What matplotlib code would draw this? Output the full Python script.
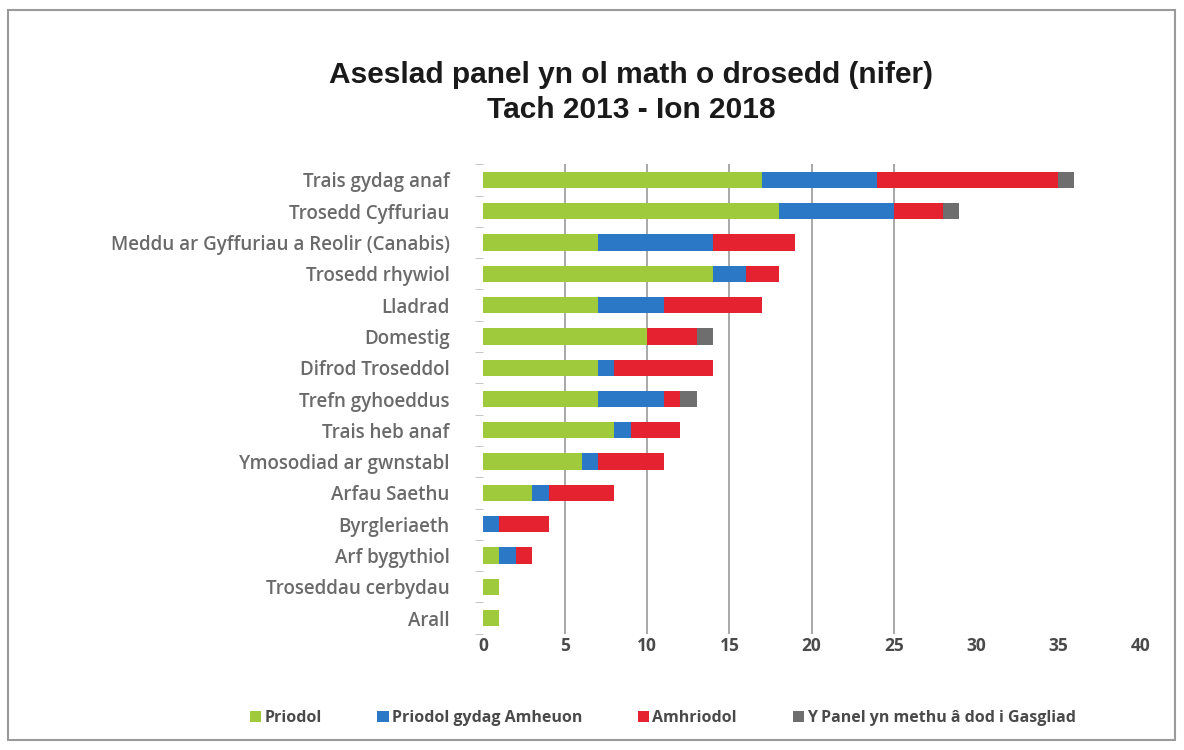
import matplotlib
matplotlib.use("Agg")
import matplotlib.pyplot as plt
import numpy as np
from matplotlib.patches import Rectangle

# categories, top to bottom
categories = ["Trais gydag anaf", "Trosedd Cyffuriau",
              "Meddu ar Gyffuriau a Reolir (Canabis)", "Trosedd rhywiol",
              "Lladrad", "Domestig", "Difrod Troseddol", "Trefn gyhoeddus",
              "Trais heb anaf", "Ymosodiad ar gwnstabl", "Arfau Saethu",
              "Byrgleriaeth", "Arf bygythiol", "Troseddau cerbydau", "Arall"]

priodol = [17, 18, 7, 14, 7, 10, 7, 7, 8, 6, 3, 0, 1, 1, 1]
priodol_amheuon = [7, 7, 7, 2, 4, 0, 1, 4, 1, 1, 1, 1, 1, 0, 0]
amhriodol = [11, 3, 5, 2, 6, 3, 6, 1, 3, 4, 4, 3, 1, 0, 0]
dim_casgliad = [1, 1, 0, 0, 0, 1, 0, 1, 0, 0, 0, 0, 0, 0, 0]

series_names = ["Priodol", "Priodol gydag Amheuon", "Amhriodol",
                "Y Panel yn methu â dod i Gasgliad"]
colors = ["#9fca3c", "#2b78c6", "#e52330", "#6e6e6e"]

xticks = [0, 5, 10, 15, 20, 25, 30, 35, 40]

fig = plt.figure(figsize=(11.84, 7.5), dpi=100)
ax = fig.add_axes([0.408, 0.155, 0.555, 0.626])

y = np.arange(len(categories))
left = np.zeros(len(categories))
series = [priodol, priodol_amheuon, amhriodol, dim_casgliad]
for vals, name, c in zip(series, series_names, colors):
    vals = np.array(vals, dtype=float)
    ax.barh(y, vals, left=left, height=0.52, color=c, label=name, zorder=3)
    left = left + vals

ax.set_ylim(len(categories) - 0.5, -0.5)
ax.set_xlim(0, 40)
ax.set_xticks(xticks)
ax.set_xticklabels([str(t) for t in xticks], fontsize=12.5, color="#4a4a4a",
                   family="Open Sans", fontweight="bold")
ax.set_yticks(y)
ax.set_yticklabels(categories, fontsize=13.5, color="#6a6a6a", family="Open Sans",
                   fontweight="semibold")
ax.set_yticks(np.arange(len(categories) + 1) - 0.5, minor=True)
ax.tick_params(axis="y", which="major", length=0, pad=24)
ax.tick_params(axis="y", which="minor", length=6, color="#bbbbbb")
ax.tick_params(axis="x", length=0, pad=2)

for t in xticks[1:6]:
    ax.axvline(t, color="#9a9a9a", lw=1.2, zorder=1)

for s in ax.spines.values():
    s.set_visible(False)

fig.text(0.533, 0.9, "Aseslad panel yn ol math o drosedd (nifer)",
         ha="center", va="center", fontsize=21.5, fontweight="bold",
         family="Liberation Sans", color="#1a1a1a")
fig.text(0.533, 0.853, "Tach 2013 - Ion 2018", ha="center", va="center",
         fontsize=21.5, fontweight="bold", family="Liberation Sans", color="#1a1a1a")

leg = fig.legend(loc="center", bbox_to_anchor=(0.56, 0.043), ncol=4,
                 frameon=False, handlelength=0.7, handleheight=0.7,
                 columnspacing=3.5, handletextpad=0.2,
                 prop={"family": "Open Sans", "weight": "bold", "size": 11.5})
for txt in leg.get_texts():
    txt.set_color("#4a4a4a")

fig.patches.append(Rectangle((0.007, 0.013), 0.985, 0.974, transform=fig.transFigure,
                             fill=False, edgecolor="#9a9a9a", lw=1.5))

fig.savefig("out.png", dpi=100)
